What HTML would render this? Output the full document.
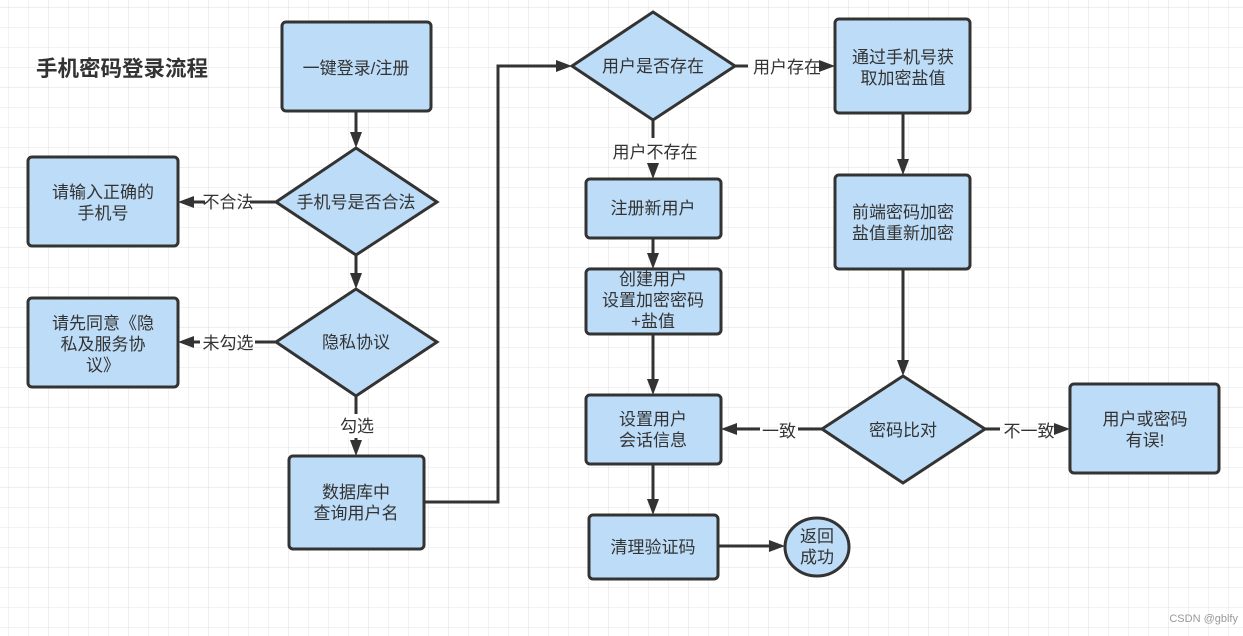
<!DOCTYPE html>
<html><head><meta charset="utf-8"><style>
html,body{margin:0;padding:0;background:#fff;}
svg{display:block;}
text{font-family:"Liberation Sans","Noto Sans CJK SC",sans-serif;font-size:17px;fill:#333;}
</style></head><body>
<svg width="1243" height="636" viewBox="0 0 1243 636" xmlns="http://www.w3.org/2000/svg">
<defs>
<pattern id="g" x="8" y="7" width="20" height="20" patternUnits="userSpaceOnUse">
<path d="M0 0H20M0 0V20" stroke="#e6e6e6" stroke-width="1" fill="none"/>
</pattern>
<pattern id="G" x="48" y="7" width="80" height="80" patternUnits="userSpaceOnUse">
<path d="M0 0H80M0 0V80" stroke="#dcdcdc" stroke-width="1" fill="none"/>
</pattern>
</defs>
<rect width="1243" height="636" fill="url(#g)"/>
<rect width="1243" height="636" fill="url(#G)"/>
<text x="36" y="76" style="font-size:21.5px;font-weight:bold">手机密码登录流程</text>

<g stroke="#333" stroke-width="3" fill="none">
<path d="M356 111V132M356 255V273M276 202H250M205 202H194M276 342H255M200 342H194M356 396V412M356 440V440M424 502H498V66H556M735 66H748M824 66H820M653 120V138M653 166V163M653 238V253M653 334V379M903 113V159M903 269V360M822 429H798M760 429H737M985 429H1000M1058 429H1054M653 464V499M718 546H769"/>
</g>
<g fill="#333">
<path d="M356 148l-6-16h12z"/>
<path d="M356 289l-6-16h12z"/>
<path d="M178 202l16-6v12z"/>
<path d="M178 342l16-6v12z"/>
<path d="M356 456l-6-16h12z"/>
<path d="M572 66l-16-6v12z"/>
<path d="M835 66l-16-6v12z"/>
<path d="M653 179l-6-16h12z"/>
<path d="M653 269l-6-16h12z"/>
<path d="M653 395l-6-16h12z"/>
<path d="M903 175l-6-16h12z"/>
<path d="M903 376l-6-16h12z"/>
<path d="M721 429l16-6v12z"/>
<path d="M1070 429l-16-6v12z"/>
<path d="M653 515l-6-16h12z"/>
<path d="M785 546l-16-6v12z"/>
</g>
<path d="M356 412V440" stroke="#333" stroke-width="3"/>

<g fill="#bddcf7" stroke="#333" stroke-width="3">
<rect x="282" y="22" width="149" height="89" rx="4"/>
<polygon points="356,148 437,202 356,255 276,202"/>
<rect x="28" y="157" width="150" height="89" rx="4"/>
<polygon points="356,289 437,342 356,396 276,342"/>
<rect x="28" y="298" width="150" height="89" rx="4"/>
<rect x="289" y="456" width="135" height="93" rx="4"/>
<polygon points="653,12 735,66 653,120 572,66"/>
<rect x="835" y="19" width="135" height="94" rx="4"/>
<rect x="586" y="179" width="135" height="59" rx="4"/>
<rect x="586" y="269" width="135" height="65" rx="4"/>
<rect x="835" y="175" width="135" height="94" rx="4"/>
<polygon points="903,376 985,429 903,483 822,429"/>
<rect x="1070" y="384" width="149" height="89" rx="4"/>
<rect x="586" y="395" width="135" height="69" rx="4"/>
<rect x="589" y="515" width="129" height="64" rx="4"/>
<ellipse cx="817" cy="547" rx="32" ry="29"/>
</g>

<g text-anchor="middle">
<rect x="338" y="414" width="38" height="24" fill="#fff"/>
<text x="356" y="74">一键登录/注册</text>
<text x="356" y="208">手机号是否合法</text>
<text x="103" y="198">请输入正确的</text><text x="103" y="219">手机号</text>
<text x="228" y="208">不合法</text>
<text x="356" y="348">隐私协议</text>
<text x="103" y="329">请先同意《隐</text><text x="103" y="350">私及服务协</text><text x="103" y="371">议》</text>
<text x="228" y="349">未勾选</text>
<text x="357" y="432">勾选</text>
<text x="356" y="498">数据库中</text><text x="356" y="519">查询用户名</text>
<text x="653" y="72">用户是否存在</text>
<text x="787" y="73">用户存在</text>
<text x="655" y="158">用户不存在</text>
<text x="903" y="63">通过手机号获</text><text x="903" y="84">取加密盐值</text>
<text x="653" y="214">注册新用户</text>
<text x="653" y="285">创建用户</text><text x="653" y="306">设置加密密码</text><text x="653" y="327">+盐值</text>
<text x="903" y="218">前端密码加密</text><text x="903" y="239">盐值重新加密</text>
<text x="903" y="436">密码比对</text>
<text x="779" y="437">一致</text>
<text x="1029" y="437">不一致</text>
<text x="1145" y="425">用户或密码</text><text x="1145" y="446">有误!</text>
<text x="653" y="425">设置用户</text><text x="653" y="446">会话信息</text>
<text x="653" y="553">清理验证码</text>
<text x="817" y="542">返回</text><text x="817" y="563">成功</text>
</g>
<text x="1238" y="622" text-anchor="end" style="font-size:11px;fill:#999">CSDN @gblfy</text>
</svg>
</body></html>
